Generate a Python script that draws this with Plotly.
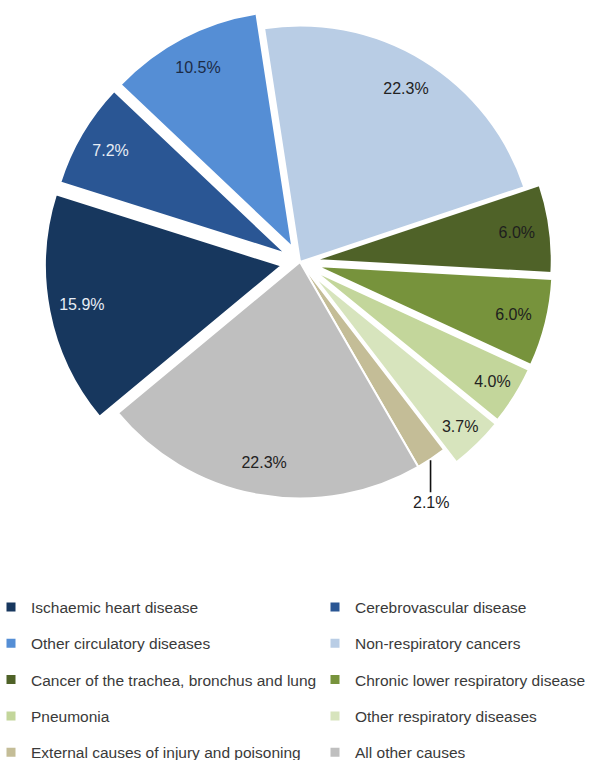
import math
import plotly.graph_objects as go

# Causes of death, share of all deaths (%)
causes = [
    "Ischaemic heart disease",
    "Cerebrovascular disease",
    "Other circulatory diseases",
    "Non-respiratory cancers",
    "Cancer of the trachea, bronchus and lung",
    "Chronic lower respiratory disease",
    "Pneumonia",
    "Other respiratory diseases",
    "External causes of injury and poisoning",
    "All other causes",
]
shares = [15.9, 7.2, 10.5, 22.3, 6.0, 6.0, 4.0, 3.7, 2.1, 22.3]

slice_colors = [
    "#17375E", "#2A5694", "#558ED5", "#B9CDE5", "#4F6228",
    "#77933C", "#C3D69B", "#D7E4BD", "#C4BD97", "#BFBFBF",
]
label_colors = [
    "#E8EDF5", "#E8EDF5", "#1C2B45", "#222222", "#1E1E1E",
    "#1E1E1E", "#222222", "#222222", "#222222", "#222222",
]
slice_pull = [0.08, 0.07, 0.07, 0.0, 0.065, 0.07, 0.07, 0.075, 0.0, 0.0]
# the thin "External causes" slice gets its label below the pie, on a leader line
CALLOUT = causes.index("External causes of injury and poisoning")

FONT = "Liberation Sans, Arial, sans-serif"
W, H = 591, 760
DOMAIN_X = [0.0755, 0.9398]
DOMAIN_Y = [0.3192, 0.9913]
START_ANGLE = 230.3

fig = go.Figure()

# The pie itself
fig.add_trace(go.Pie(
    labels=causes,
    values=shares,
    sort=False,
    direction="clockwise",
    rotation=START_ANGLE,
    pull=slice_pull,
    marker=dict(colors=slice_colors, line=dict(color="white", width=2)),
    textinfo="none",
    hoverinfo="label+value",
    showlegend=False,
    domain=dict(x=DOMAIN_X, y=DOMAIN_Y),
))

# Transparent ring with the same geometry, carrying the percentage labels
# near the outer rim of each slice
fig.add_trace(go.Pie(
    labels=causes,
    values=shares,
    sort=False,
    direction="clockwise",
    rotation=START_ANGLE,
    pull=slice_pull,
    hole=0.72,
    marker=dict(colors=["rgba(0,0,0,0)"] * len(causes), line=dict(width=0)),
    texttemplate=["" if i == CALLOUT else "%{value:.1f}%" for i in range(len(causes))],
    textposition="inside",
    insidetextorientation="horizontal",
    textfont=dict(family=FONT, size=16, color=label_colors),
    hoverinfo="skip",
    showlegend=False,
    domain=dict(x=DOMAIN_X, y=DOMAIN_Y),
))

# Leader-line label for the thin slice, placed from the slice's mid angle
total = sum(shares)
mid_deg = START_ANGLE + 360 * (sum(shares[:CALLOUT]) + shares[CALLOUT] / 2) / total
mid = math.radians(mid_deg)
cx = (DOMAIN_X[0] + DOMAIN_X[1]) / 2
cy = (DOMAIN_Y[0] + DOMAIN_Y[1]) / 2
radius_px = min((DOMAIN_X[1] - DOMAIN_X[0]) * W,
                (DOMAIN_Y[1] - DOMAIN_Y[0]) * H) / 2 / (1 + max(slice_pull))
edge = radius_px * (1 + slice_pull[CALLOUT]) + 2
fig.add_annotation(
    x=cx + edge * math.sin(mid) / W,
    y=cy + edge * math.cos(mid) / H,
    xref="paper", yref="paper",
    text=f"{shares[CALLOUT]:.1f}%",
    showarrow=True, arrowhead=0, arrowwidth=1.6, arrowcolor="#111111",
    ax=0, ay=42, standoff=0, xshift=-2,
    font=dict(family=FONT, size=16, color="#222222"),
)

# Legend entries, laid out in two columns
for i, (name, col) in enumerate(zip(causes, slice_colors)):
    fig.add_trace(go.Scatter(
        x=[None], y=[None],
        mode="markers",
        marker=dict(symbol="square", size=9, color=col),
        name=name,
        legendgroup=name,
        legend="legend" if i % 2 == 0 else "legend2",
        hoverinfo="skip",
    ))

legend_style = dict(
    orientation="v",
    xref="paper", yref="paper",
    xanchor="left", yanchor="top",
    font=dict(family=FONT, size=15.5, color="#3A3A3A"),
    tracegroupgap=13.15,
    bgcolor="rgba(0,0,0,0)",
    itemclick=False, itemdoubleclick=False,
)

fig.update_layout(
    width=W, height=H,
    margin=dict(l=0, r=0, t=0, b=0, autoexpand=False),
    paper_bgcolor="white",
    plot_bgcolor="white",
    font=dict(family=FONT),
    xaxis=dict(visible=False, range=[0, 1], fixedrange=True),
    yaxis=dict(visible=False, range=[0, 1], fixedrange=True),
    legend=dict(x=-9 / W, y=1 - 590.4 / H, **legend_style),
    legend2=dict(x=315 / W, y=1 - 590.4 / H, **legend_style),
)

fig.write_html("out.html")
